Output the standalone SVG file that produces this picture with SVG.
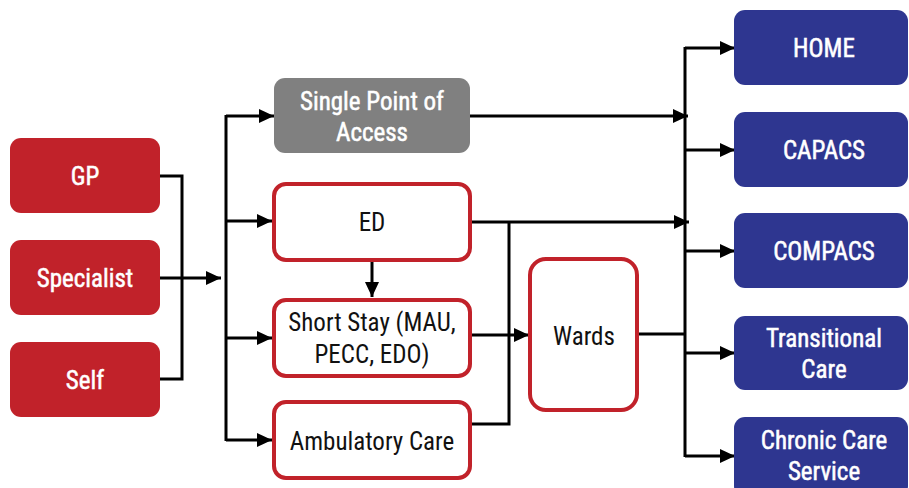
<svg xmlns="http://www.w3.org/2000/svg" width="909" height="488" viewBox="0 0 909 488">
<defs>
<marker id="ah" markerWidth="15" markerHeight="14" refX="15" refY="7" orient="auto" markerUnits="userSpaceOnUse" viewBox="0 0 15 14">
<path d="M0,0 L15,7 L0,14 z" fill="#000"/>
</marker>
<style>
.src{fill:#C1222A}
.gray{fill:#808080}
.out{fill:#fff;stroke:#C1222A;stroke-width:4}
.dst{fill:#2E3690}
.wt{fill:#fff;font-family:"Liberation Sans Narrow","Roboto Condensed","DejaVu Sans Condensed","Liberation Sans",sans-serif;font-size:25px;font-weight:normal;stroke:#fff;stroke-width:0.5;text-anchor:middle}
.bt{fill:#111;font-family:"Liberation Sans Narrow","Roboto Condensed","DejaVu Sans Condensed","Liberation Sans",sans-serif;font-size:25px;text-anchor:middle}
.ln{fill:none;stroke:#000;stroke-width:3}
.ar{fill:none;stroke:#000;stroke-width:3;marker-end:url(#ah)}
</style>
</defs>
<g id="connectors">
<polyline class="ln" points="160,176 182,176 182,379 160,379"/>
<line class="ar" x1="160" y1="278" x2="221" y2="278"/>
<line class="ln" x1="226" y1="115" x2="226" y2="441"/>
<line class="ar" x1="226" y1="116" x2="274" y2="116"/>
<line class="ar" x1="226" y1="221" x2="272" y2="221"/>
<line class="ar" x1="226" y1="338" x2="272" y2="338"/>
<line class="ar" x1="226" y1="440" x2="272" y2="440"/>
<line class="ar" x1="372" y1="262" x2="372" y2="297"/>
<line class="ar" x1="470" y1="116" x2="688" y2="116"/>
<line class="ar" x1="472" y1="222" x2="689" y2="222"/>
<polyline class="ln" points="472,424 509,424 509,222"/>
<line class="ar" x1="472" y1="335" x2="529" y2="335"/>
<line class="ln" x1="639" y1="334" x2="685" y2="334"/>
<line class="ln" x1="685" y1="47" x2="685" y2="457"/>
<line class="ar" x1="685" y1="48" x2="735" y2="48"/>
<line class="ar" x1="685" y1="150" x2="735" y2="150"/>
<line class="ar" x1="685" y1="251" x2="735" y2="251"/>
<line class="ar" x1="685" y1="353" x2="735" y2="353"/>
<line class="ar" x1="685" y1="456" x2="735" y2="456"/>
</g>
<g id="gp"><rect class="src" x="10" y="138" width="150" height="75" rx="11"/><text class="wt" x="85" y="185">GP</text></g>
<g id="specialist"><rect class="src" x="10" y="240" width="150" height="75" rx="11"/><text class="wt" x="85" y="287">Specialist</text></g>
<g id="self"><rect class="src" x="10" y="342" width="150" height="75" rx="11"/><text class="wt" x="85" y="389">Self</text></g>
<g id="spa"><rect class="gray" x="274" y="78" width="196" height="75" rx="11"/><text class="wt" x="372" y="110">Single Point of</text><text class="wt" x="372" y="141">Access</text></g>
<g id="ed"><rect class="out" x="274" y="184" width="196" height="76" rx="12"/><text class="bt" x="372" y="231">ED</text></g>
<g id="shortstay"><rect class="out" x="274" y="300" width="196" height="76" rx="12"/><text class="bt" x="372" y="331">Short Stay (MAU,</text><text class="bt" x="372" y="363">PECC, EDO)</text></g>
<g id="ambulatory"><rect class="out" x="274" y="402" width="196" height="76" rx="12"/><text class="bt" x="372" y="450">Ambulatory Care</text></g>
<g id="wards"><rect class="out" x="530" y="259" width="107" height="151" rx="16"/><text class="bt" x="584" y="345">Wards</text></g>
<g id="home"><rect class="dst" x="734" y="10" width="174" height="75" rx="11"/><text class="wt" x="824" y="57">HOME</text></g>
<g id="capacs"><rect class="dst" x="734" y="112" width="174" height="75" rx="11"/><text class="wt" x="824" y="159">CAPACS</text></g>
<g id="compacs"><rect class="dst" x="734" y="213" width="174" height="75" rx="11"/><text class="wt" x="824" y="260">COMPACS</text></g>
<g id="transitional"><rect class="dst" x="734" y="316" width="174" height="74" rx="11"/><text class="wt" x="824" y="347">Transitional</text><text class="wt" x="824" y="378">Care</text></g>
<g id="chronic"><rect class="dst" x="734" y="417" width="174" height="80" rx="11"/><text class="wt" x="824" y="449">Chronic Care</text><text class="wt" x="824" y="480">Service</text></g>
</svg>
